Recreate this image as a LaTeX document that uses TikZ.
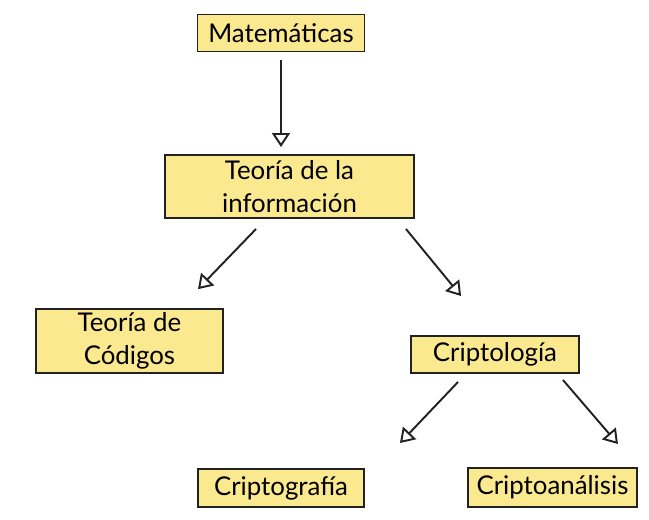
\documentclass[tikz,border=0pt]{standalone}
\usepackage{fontspec}
\setmainfont{Lato}
\usepackage{xcolor}
\usetikzlibrary{arrows.meta,positioning}
\definecolor{boxfill}{RGB}{251,233,143}
\definecolor{boxline}{RGB}{34,34,34}

\begin{document}
\begin{tikzpicture}[
  box/.style  = {draw=boxline, line width=1.1pt, fill=boxfill, align=center,
                 inner sep=2pt, font=\fontsize{14.7}{18.8}\selectfont},
  arr/.style  = {-{Triangle[open, length=2.8mm, width=3.6mm]}, line width=1.1pt, draw=boxline}
]
\useasboundingbox (0,0) rectangle (12.98,-10.38);
%% ---- boxes --------------------------------------------------------
\node[box, minimum width=3.34cm, minimum height=0.74cm] (mat) at (5.62,-0.66) {Matemáticas};
\node[box, minimum width=4.98cm, minimum height=1.26cm] (info) at (5.79,-3.73)
  {Teoría de la\\información};
\node[box, minimum width=3.74cm, minimum height=1.2cm] (cod) at (2.59,-6.82)
  {Teoría de\\Códigos};
\node[box, minimum width=3.36cm, minimum height=0.74cm] (crip) at (9.9,-7.09) {Criptología};
\node[box, minimum width=3.32cm, minimum height=0.76cm] (graf) at (5.62,-9.76) {Criptografía};
\node[box, minimum width=3.38cm, minimum height=0.78cm] (anal) at (11.05,-9.75) {Criptoanálisis};

%% ---- arrows -------------------------------------------------------
\draw[arr, shorten <=0.16cm, shorten >=0.14cm] (mat.south) -- (mat.south |- info.north);
\draw[arr] ([shift={(1.84,-0.2)}]info.south west) -- ([shift={(-0.52,0.38)}]cod.north east);
\draw[arr] ([shift={(-0.18,-0.2)}]info.south east) -- ([shift={(1.02,0.78)}]crip.north west);
\draw[arr] ([shift={(0.96,-0.16)}]crip.south west) -- ([shift={(0.7,0.5)}]graf.north east);
\draw[arr] ([shift={(-0.34,-0.12)}]crip.south east) -- ([shift={(-0.4,0.46)}]anal.north east);
\end{tikzpicture}
\end{document}
